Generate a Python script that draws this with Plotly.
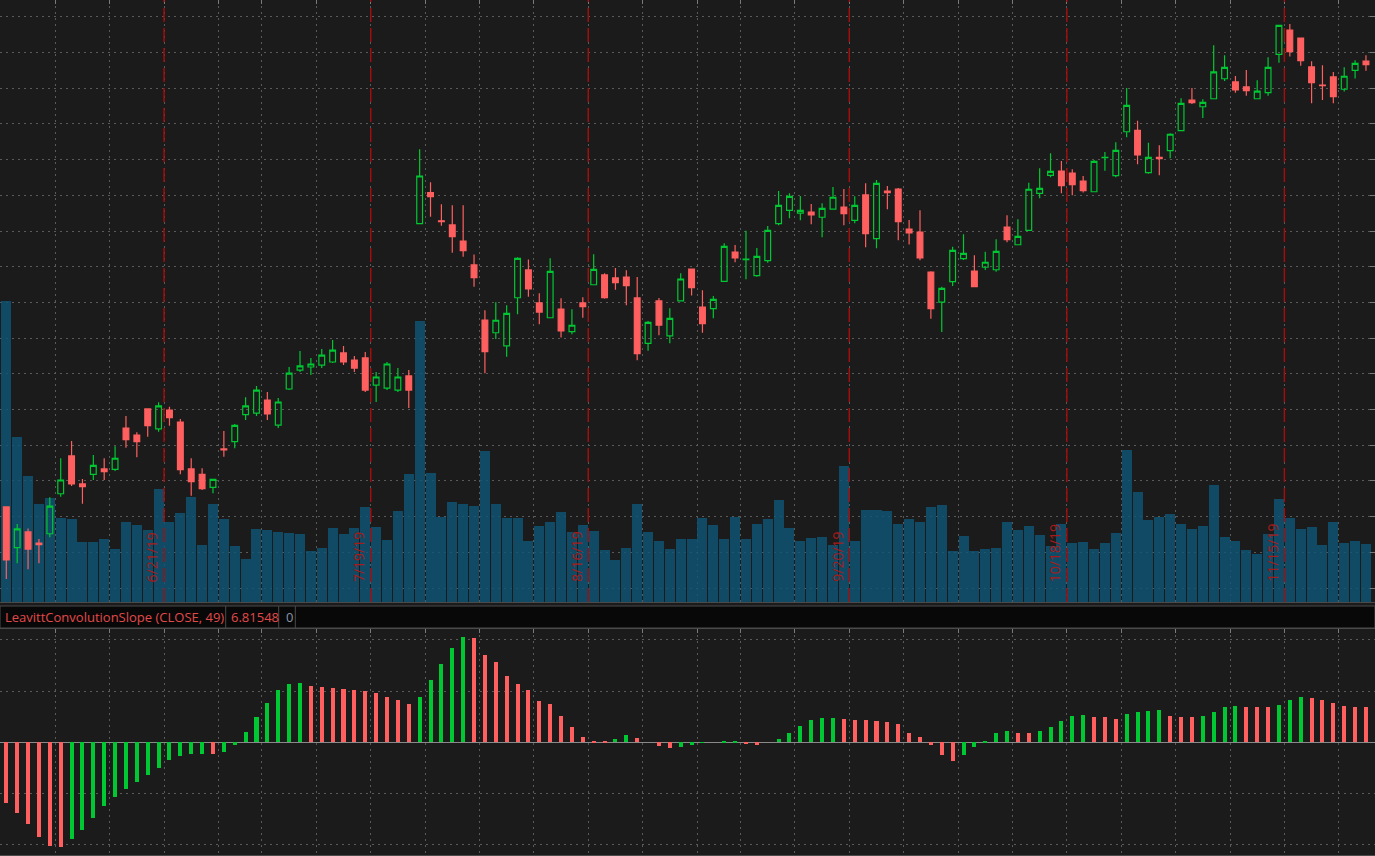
import pandas as pd
import plotly.graph_objects as go

# ---------------- data ----------------
trade_days = pd.bdate_range("2019-06-03", "2019-11-27", freq="C",
                            holidays=["2019-07-04", "2019-09-02"])
dates = [f"{d.month}/{d.day}/{d.strftime('%y')}" for d in trade_days]

open_ = [1065.4, 1042.6, 1051.4, 1045.2, 1050.4, 1072.8, 1094.0, 1078.3, 1083.7, 1086.7,
         1086.5, 1109.6, 1105.7, 1120.3, 1109.2, 1119.7, 1113.0, 1086.7, 1083.7, 1076.4,
         1097.9, 1102.0, 1117.1, 1118.0, 1125.3, 1111.3, 1131.5, 1142.1, 1143.8, 1144.9,
         1146.6, 1151.7, 1147.7, 1148.9, 1133.7, 1132.0, 1130.9, 1138.8, 1224.1, 1241.5,
         1225.7, 1223.4, 1214.4, 1201.0, 1170.1, 1163.0, 1155.7, 1182.6, 1198.2, 1179.7,
         1171.4, 1176.3, 1163.6, 1179.7, 1189.9, 1195.4, 1193.7, 1194.2, 1182.5, 1157.1,
         1180.8, 1161.3, 1180.9, 1198.7, 1177.4, 1176.5, 1191.8, 1208.2, 1204.0, 1195.0,
         1203.4, 1224.1, 1231.6, 1230.0, 1230.6, 1227.7, 1232.2, 1233.4, 1226.0, 1240.2,
         1215.7, 1242.4, 1243.5, 1221.1, 1219.4, 1197.0, 1180.1, 1191.6, 1204.5, 1197.6,
         1199.7, 1198.3, 1222.2, 1212.3, 1220.4, 1241.1, 1251.2, 1253.6, 1252.5, 1248.0,
         1242.0, 1261.1, 1251.0, 1275.6, 1276.4, 1252.7, 1261.2, 1265.0, 1276.2, 1293.4,
         1289.6, 1294.1, 1305.3, 1303.5, 1300.7, 1294.1, 1297.5, 1319.0, 1332.6, 1328.1,
         1311.9, 1301.8, 1306.3, 1299.4, 1310.0, 1315.2]
high = [1065.5, 1055.9, 1053.4, 1047.5, 1070.8, 1092.7, 1102.4, 1081.1, 1094.5, 1092.7,
        1099.4, 1116.4, 1107.2, 1120.5, 1124.0, 1121.6, 1114.7, 1092.7, 1087.1, 1080.9,
        1108.0, 1111.9, 1126.8, 1133.2, 1129.8, 1126.4, 1143.8, 1152.8, 1148.9, 1153.9,
        1158.9, 1155.6, 1150.0, 1152.2, 1141.0, 1146.6, 1143.2, 1142.1, 1265.8, 1247.3,
        1235.0, 1234.4, 1234.4, 1206.9, 1175.6, 1180.1, 1178.4, 1205.3, 1204.1, 1185.1,
        1204.7, 1182.3, 1176.1, 1182.9, 1207.0, 1196.3, 1199.3, 1198.0, 1194.2, 1169.6,
        1182.5, 1176.7, 1196.3, 1198.7, 1186.8, 1183.6, 1213.1, 1212.2, 1220.2, 1210.5,
        1222.8, 1242.4, 1241.1, 1239.6, 1235.1, 1235.5, 1244.7, 1243.5, 1239.4, 1246.7,
        1248.6, 1245.2, 1244.1, 1226.2, 1231.6, 1197.5, 1188.8, 1211.2, 1218.2, 1206.4,
        1208.4, 1215.4, 1228.8, 1226.6, 1247.1, 1255.1, 1263.5, 1259.2, 1254.6, 1250.8,
        1259.8, 1264.3, 1269.7, 1300.1, 1281.8, 1269.5, 1268.0, 1274.7, 1294.3, 1300.1,
        1293.8, 1324.0, 1318.4, 1306.8, 1310.2, 1304.4, 1317.4, 1335.5, 1336.0, 1328.1,
        1315.1, 1312.8, 1309.1, 1311.7, 1315.6, 1318.4]
low = [1025.0, 1033.8, 1030.5, 1033.8, 1048.4, 1071.1, 1077.1, 1067.2, 1080.5, 1080.5,
       1085.5, 1098.6, 1093.2, 1104.8, 1107.6, 1110.9, 1083.7, 1071.7, 1074.9, 1073.1,
       1093.6, 1098.3, 1114.1, 1116.4, 1114.1, 1109.6, 1130.9, 1141.0, 1139.3, 1143.2,
       1146.0, 1144.9, 1141.0, 1129.8, 1124.2, 1130.9, 1129.8, 1120.8, 1224.0, 1228.0,
       1223.0, 1207.8, 1205.6, 1188.8, 1140.3, 1159.5, 1149.6, 1173.3, 1183.2, 1167.7,
       1171.4, 1160.4, 1162.1, 1171.4, 1189.9, 1182.1, 1187.1, 1178.4, 1147.6, 1152.9,
       1161.6, 1157.1, 1180.9, 1183.8, 1163.0, 1171.1, 1191.8, 1202.5, 1192.9, 1194.4,
       1202.2, 1223.2, 1227.1, 1226.0, 1223.8, 1216.5, 1232.2, 1223.2, 1224.3, 1210.9,
       1210.3, 1232.2, 1214.8, 1212.5, 1203.6, 1170.9, 1163.4, 1189.2, 1203.8, 1188.8,
       1198.2, 1197.2, 1213.7, 1212.3, 1220.4, 1238.3, 1250.1, 1241.1, 1240.0, 1241.5,
       1242.0, 1253.8, 1250.1, 1272.5, 1257.4, 1252.1, 1251.2, 1260.7, 1276.2, 1291.1,
       1283.3, 1294.1, 1304.0, 1297.5, 1295.8, 1293.8, 1295.8, 1314.3, 1317.7, 1312.6,
       1291.5, 1293.4, 1291.5, 1298.2, 1305.5, 1309.8]
close = [1035.7, 1053.1, 1041.8, 1044.3, 1065.9, 1080.5, 1078.3, 1076.8, 1088.7, 1085.2,
         1092.7, 1103.1, 1102.0, 1110.9, 1122.0, 1115.4, 1086.3, 1079.6, 1075.6, 1080.9,
         1097.3, 1111.1, 1122.0, 1130.9, 1117.5, 1124.2, 1140.4, 1144.4, 1145.5, 1150.5,
         1153.3, 1146.6, 1143.2, 1130.9, 1138.2, 1145.5, 1138.2, 1130.9, 1250.8, 1239.2,
         1225.2, 1216.8, 1209.0, 1193.8, 1152.4, 1170.0, 1173.9, 1204.7, 1187.5, 1174.6,
         1197.4, 1164.0, 1167.2, 1177.6, 1198.5, 1182.6, 1191.0, 1189.4, 1151.3, 1168.8,
         1167.3, 1171.1, 1193.1, 1188.2, 1168.1, 1181.7, 1211.4, 1205.0, 1204.3, 1205.8,
         1220.4, 1234.4, 1239.4, 1231.6, 1229.0, 1232.7, 1238.9, 1229.7, 1234.4, 1218.5,
         1246.7, 1241.5, 1225.2, 1219.0, 1205.0, 1176.5, 1187.9, 1209.2, 1207.5, 1188.8,
         1202.5, 1208.6, 1215.1, 1217.0, 1243.4, 1243.9, 1253.4, 1245.4, 1245.9, 1242.6,
         1259.0, 1261.3, 1265.2, 1290.4, 1262.6, 1261.3, 1260.6, 1274.2, 1291.5, 1291.9,
         1292.1, 1309.1, 1311.7, 1299.0, 1298.6, 1298.4, 1311.7, 1335.2, 1320.5, 1315.4,
         1303.1, 1301.4, 1295.2, 1306.7, 1313.9, 1313.2]
volume = [6.02, 3.30, 2.52, 1.96, 2.08, 1.68, 1.66, 1.20, 1.20, 1.26,
          1.06, 1.60, 1.54, 1.44, 2.26, 1.60, 1.78, 2.10, 1.14, 1.96,
          1.66, 1.12, 0.86, 1.46, 1.44, 1.40, 1.38, 1.36, 1.02, 1.08,
          1.48, 1.36, 1.48, 1.90, 1.50, 1.24, 1.82, 2.56, 5.62, 2.58,
          1.70, 2.00, 1.96, 1.92, 3.02, 1.96, 1.68, 1.68, 1.22, 1.52,
          1.60, 1.80, 1.40, 1.54, 1.42, 1.04, 0.84, 1.08, 1.96, 1.40,
          1.22, 1.06, 1.26, 1.26, 1.68, 1.54, 1.26, 1.70, 1.26, 1.56,
          1.66, 2.04, 1.48, 1.22, 1.28, 1.30, 1.14, 2.72, 1.22, 1.84,
          1.84, 1.82, 1.56, 1.66, 1.60, 1.90, 1.94, 1.02, 1.32, 1.02,
          1.06, 1.08, 1.60, 1.44, 1.52, 1.34, 1.12, 1.56, 1.18, 1.20,
          1.06, 1.18, 1.38, 3.04, 2.20, 1.64, 1.70, 1.76, 1.56, 1.46,
          1.52, 2.34, 1.30, 1.22, 1.04, 0.96, 1.36, 2.06, 1.68, 1.46,
          1.50, 1.14, 1.60, 1.18, 1.22, 1.16]
slope = [-11.9, -13.8, -16.0, -18.5, -20.3, -20.5, -18.9, -17.2, -14.8, -12.5,
         -10.7, -9.2, -7.8, -6.4, -5.1, -3.5, -2.7, -2.3, -2.2, -2.3,
         -1.9, -0.6, 2.0, 4.9, 7.7, 10.2, 11.4, 11.6, 11.0, 10.8,
         10.6, 10.4, 10.2, 10.0, 9.6, 8.8, 8.2, 7.5, 8.8, 12.1,
         15.3, 18.4, 20.5, 20.3, 17.0, 15.7, 12.9, 11.4, 10.2, 8.0,
         7.5, 5.1, 3.0, 1.0, 0.3, 0.2, 0.6, 1.4, 0.8, 0.0,
         -0.7, -1.1, -1.0, -0.5, -0.1, 0.0, 0.1, 0.15, -0.3, -0.5,
         0.0, 0.6, 1.8, 3.2, 4.3, 4.7, 4.8, 4.5, 4.3, 4.25,
         4.15, 4.0, 3.6, 1.8, 1.0, -0.5, -2.5, -3.6, -2.5, -0.9,
         0.3, 1.8, 2.2, 1.8, 1.75, 2.2, 3.0, 4.2, 5.1, 5.3,
         4.9, 4.85, 4.5, 5.5, 5.9, 6.1, 6.3, 5.1, 4.9, 4.85,
         5.1, 5.9, 6.9, 7.0, 6.95, 6.9, 6.85, 7.2, 8.2, 8.8,
         8.6, 8.2, 7.6, 7.1, 6.9, 6.81548]
expirations = ["6/21/19", "7/19/19", "8/16/19", "9/20/19", "10/18/19", "11/15/19"]
study_name = "LeavittConvolutionSlope (CLOSE, 49)"
study_zero = "0"

# ---------------- styles ----------------
W, H = 1375, 856
BG = "#1b1b1b"
GRID = "#5a5a5a"
GREEN = "#00c832"
RED = "#ff5f5f"
EXP = "#a80d0d"
GRID_DASH = "1.5px,4.5px"

x = list(range(len(dates)))
week_bounds = [i + 0.5 for i in range(len(trade_days) - 1)
               if trade_days[i + 1].weekday() < trade_days[i].weekday()]
hist_colors = [GREEN if i > 0 and slope[i] > slope[i - 1] else RED for i in range(len(slope))]

def py(px):
    return 1 - px / H

fig = go.Figure()
fig.add_trace(go.Bar(x=x, y=volume, xaxis="x", yaxis="y", width=0.92,
                     marker=dict(color="rgba(16,86,118,0.82)", line=dict(width=0)),
                     customdata=dates, hovertemplate="%{customdata}<br>Vol %{y}M<extra></extra>"))
fig.add_trace(go.Candlestick(x=x, open=open_, high=high, low=low, close=close,
                             xaxis="x", yaxis="y2", whiskerwidth=0, text=dates,
                             increasing=dict(line=dict(color=GREEN, width=1.2), fillcolor="rgba(0,0,0,0)"),
                             decreasing=dict(line=dict(color=RED, width=1.2), fillcolor=RED)))
fig.add_trace(go.Bar(x=x, y=slope, xaxis="x2", yaxis="y3", width=0.37,
                     marker=dict(color=hist_colors, line=dict(width=0)),
                     customdata=dates, hovertemplate="%{customdata}<br>%{y}<extra></extra>"))

xcommon = dict(range=[-0.58, 125.83], tickmode="array", tickvals=week_bounds,
               showgrid=True, gridcolor=GRID, griddash=GRID_DASH, gridwidth=1,
               ticks="inside", ticklen=4, tickcolor="#7a7a7a", showticklabels=False,
               showline=True, linecolor="#4a4a4a", linewidth=1, mirror=True,
               zeroline=False, side="top", fixedrange=True)

shapes = [
    dict(type="rect", xref="paper", yref="paper", x0=0, x1=1, y0=py(628), y1=py(606),
         fillcolor="#080808", line=dict(color="#4a4a4a", width=1), layer="above"),
]
for sx in (225.7, 278.7, 295.3):
    shapes.append(dict(type="line", xref="paper", yref="paper", x0=sx / W, x1=sx / W,
                       y0=py(628), y1=py(606), line=dict(color="#4a4a4a", width=1)))
annotations = []
for d in expirations:
    xi = dates.index(d) + 0.5
    shapes.append(dict(type="line", xref="x", yref="paper", x0=xi, x1=xi,
                       y0=py(602), y1=1, line=dict(color=EXP, width=1.4, dash="14px,6px")))
    annotations.append(dict(text=d, x=xi - 0.1, xref="x", xanchor="right",
                            y=py(584), yref="paper", yanchor="bottom", textangle=-90,
                            showarrow=False, font=dict(family="Open Sans", size=14, color="#a51b1b")))

annotations += [
    dict(text=study_name, x=3 / W, xref="paper", xanchor="left", y=py(617), yref="paper",
         yanchor="middle", showarrow=False, font=dict(family="Open Sans", size=13, color="#e24a4a")),
    dict(text=f"{slope[-1]:.5f}", x=229 / W, xref="paper", xanchor="left", y=py(617), yref="paper",
         yanchor="middle", showarrow=False, font=dict(family="Open Sans", size=13, color="#e24a4a")),
    dict(text=study_zero, x=284 / W, xref="paper", xanchor="left", y=py(617), yref="paper",
         yanchor="middle", showarrow=False, font=dict(family="Open Sans", size=13, color="#8796a8")),
]

fig.update_layout(
    width=W, height=H, margin=dict(l=0, r=0, t=0, b=0), autosize=False,
    paper_bgcolor=BG, plot_bgcolor=BG, showlegend=False, boxgap=0.47, boxgroupgap=0,
    bargap=0, dragmode=False,
    xaxis=dict(**xcommon, domain=[0, 1], anchor="y", rangeslider=dict(visible=False)),
    xaxis2=dict(**xcommon, domain=[0, 1], anchor="y3"),
    yaxis=dict(domain=[py(602), 1], range=[0, 12.04], showgrid=False, showticklabels=False,
               zeroline=False, fixedrange=True),
    yaxis2=dict(overlaying="y", anchor="x", side="right", range=[1012.16, 1349.41],
                tick0=1020, dtick=20, showgrid=True, gridcolor=GRID, griddash=GRID_DASH,
                ticks="inside", ticklen=5, tickcolor="#7a7a7a", showticklabels=False,
                zeroline=False, fixedrange=True),
    yaxis3=dict(domain=[py(855), py(629)], anchor="x2", range=[-22.0, 22.1], tick0=0, dtick=10,
                showgrid=True, gridcolor=GRID, griddash=GRID_DASH, zeroline=True,
                zerolinecolor="#8a8a8a", zerolinewidth=1, showticklabels=False, fixedrange=True),
    shapes=shapes, annotations=annotations,
)

fig.write_html("out.html", config={"displayModeBar": False},
               post_script="document.body.style.margin='0';document.body.style.overflow='hidden';")
